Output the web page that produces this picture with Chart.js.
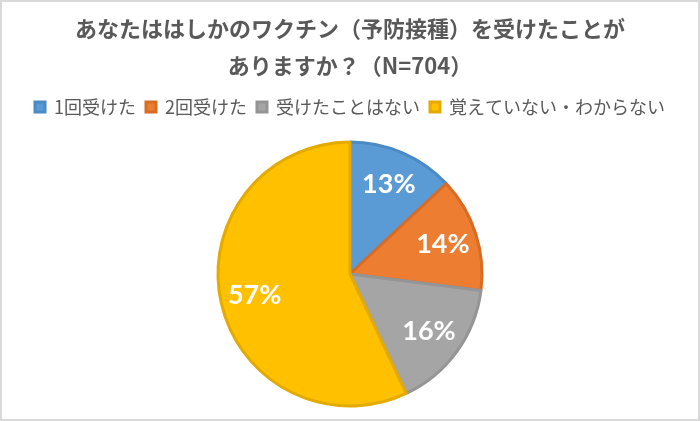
<!DOCTYPE html>
<html lang="ja">
<head>
<meta charset="utf-8">
<title>はしかのワクチン</title>
<script src="https://cdn.jsdelivr.net/npm/chart.js@4.4.1/dist/chart.umd.min.js"></script>
<style>
  html, body { margin: 0; padding: 0; background: #fff; }
  #wrap {
    width: 700px; height: 421px; box-sizing: border-box;
    border: 2px solid #d9d9d9; background: #fff;
  }
</style>
</head>
<body>
<div id="wrap"><canvas id="chart"></canvas></div>
<script>
const TITLE_LINES = ['あなたははしかのワクチン（予防接種）を受けたことが', 'ありますか？（N=704）'];
const LABELS = ['1回受けた', '2回受けた', '受けたことはない', '覚えていない・わからない'];
const VALUES = [13, 14, 16, 57];
const FILL_COLORS = ['#5b9bd5', '#ed7d31', '#a5a5a5', '#ffc000'];
const EDGE_COLORS = ['#4a8ac6', '#d96c24', '#959595', '#e3aa00'];

// 凡例の下に少し余白を足す
const legendGap = {
  id: 'legendGap',
  beforeInit(chart) {
    const origFit = chart.legend.fit;
    chart.legend.fit = function () {
      origFit.bind(chart.legend)();
      this.height += 3;
    };
  }
};

// 扇形の中にパーセント表示
const sliceLabels = {
  id: 'sliceLabels',
  afterDatasetsDraw(chart) {
    const ctx = chart.ctx;
    const meta = chart.getDatasetMeta(0);
    ctx.save();
    ctx.fillStyle = '#ffffff';
    ctx.font = 'bold 27px Lato, "Noto Sans", sans-serif';
    ctx.textAlign = 'center';
    ctx.textBaseline = 'middle';
    meta.data.forEach((arc, i) => {
      const p = arc.getProps(['x', 'y', 'startAngle', 'endAngle', 'outerRadius'], true);
      const mid = (p.startAngle + p.endAngle) / 2;
      const r = p.outerRadius * 0.74;
      ctx.fillText(VALUES[i] + '%', p.x + Math.cos(mid) * r, p.y + Math.sin(mid) * r);
    });
    ctx.restore();
  }
};

new Chart(document.getElementById('chart'), {
  type: 'pie',
  data: {
    labels: LABELS,
    datasets: [{
      data: VALUES,
      backgroundColor: FILL_COLORS,
      borderColor: EDGE_COLORS,
      borderWidth: 3
    }]
  },
  options: {
    responsive: true,
    maintainAspectRatio: false,
    animation: false,
    radius: 132,
    layout: { padding: 0 },
    plugins: {
      title: {
        display: true,
        text: TITLE_LINES,
        color: '#595959',
        font: { family: '"Noto Sans CJK JP", sans-serif', size: 22, weight: 'bold', lineHeight: 37 / 22 },
        padding: { top: 8, bottom: 4 }
      },
      legend: {
        position: 'top',
        labels: {
          color: '#595959',
          font: { family: '"Noto Sans CJK JP", sans-serif', size: 18 },
          boxWidth: 10,
          boxHeight: 10,
          padding: 10
        }
      },
      tooltip: { enabled: false }
    }
  },
  plugins: [legendGap, sliceLabels]
});
</script>
</body>
</html>
